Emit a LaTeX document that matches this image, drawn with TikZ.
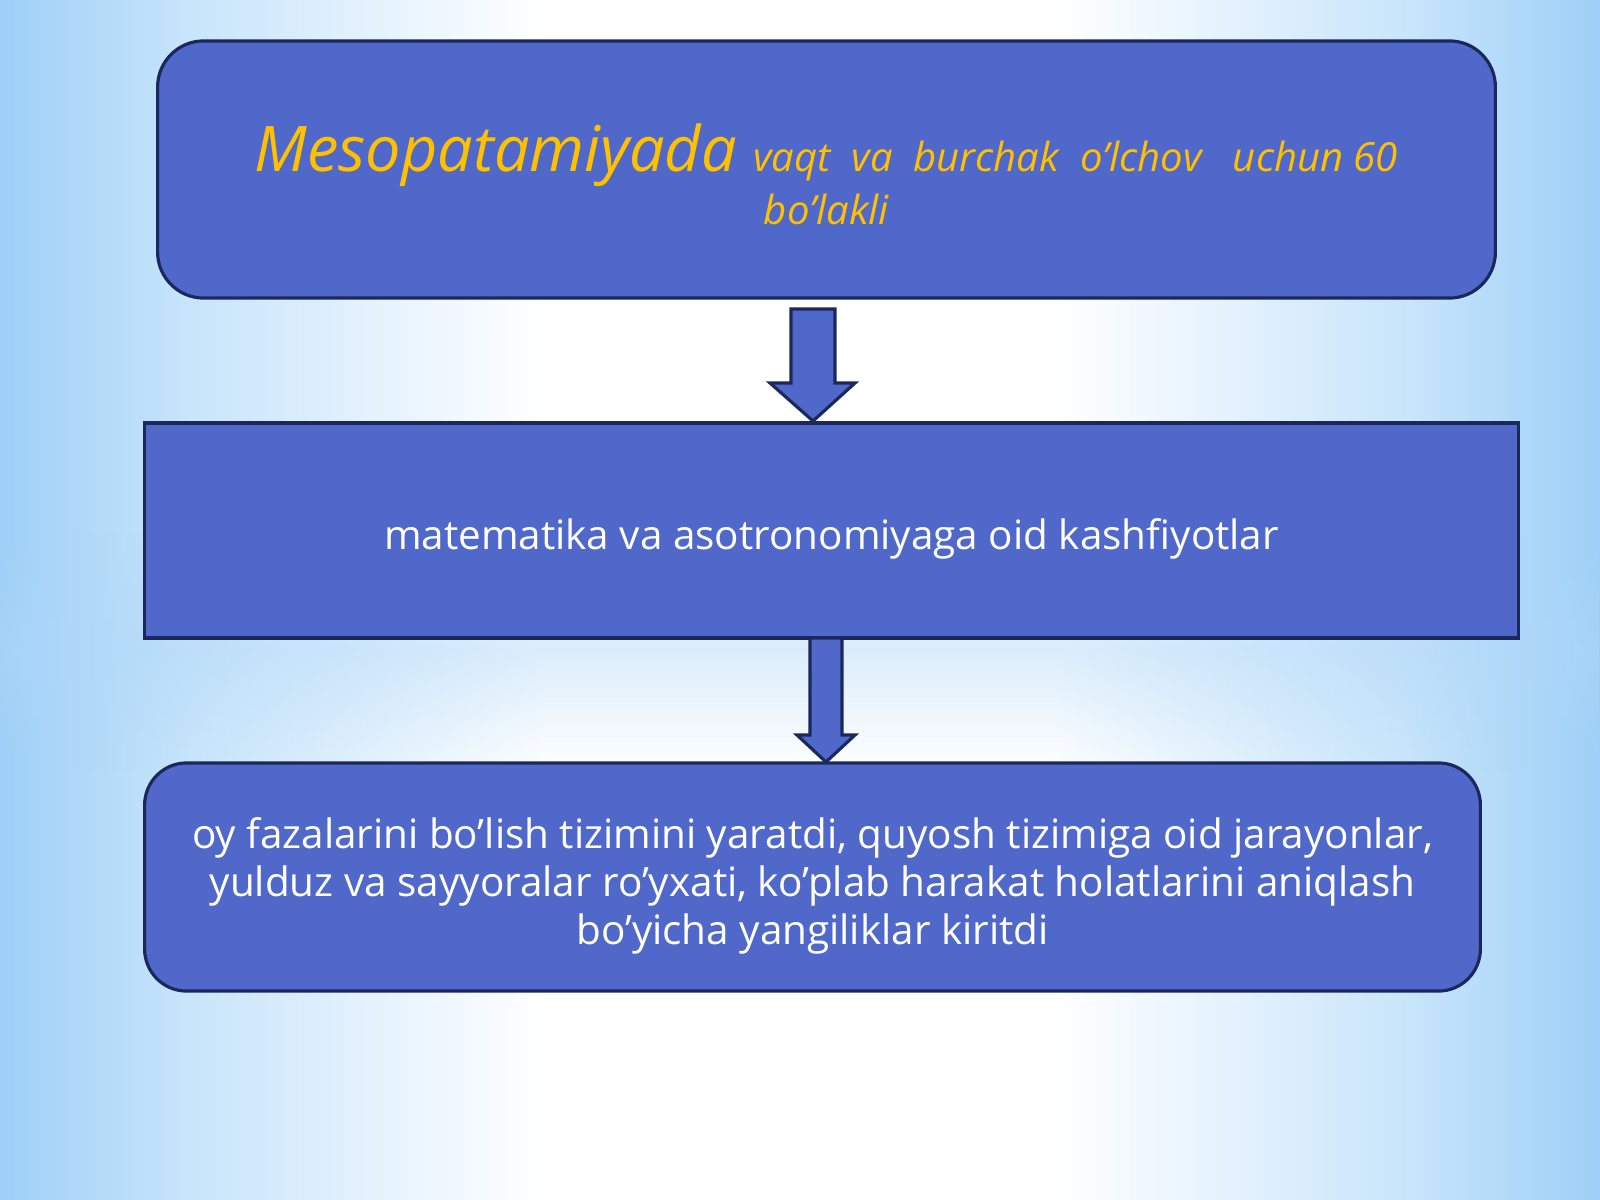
\documentclass[tikz,border=0pt]{standalone}
\usepackage{fontspec}
\setmainfont{Open Sans}
\usetikzlibrary{fadings}
\definecolor{bgblue}{RGB}{158,207,247}
\definecolor{bgmid}{RGB}{200,229,251}
\definecolor{bandblue}{RGB}{175,216,248}
\definecolor{boxfill}{RGB}{80,104,201}
\definecolor{boxline}{RGB}{28,40,92}
\definecolor{gold}{RGB}{255,192,0}
\pgfdeclarehorizontalshading{bgshade}{100bp}{color(0bp)=(bgblue); color(25bp)=(bgblue); color(31bp)=(bgmid); color(42bp)=(white); color(58bp)=(white); color(69bp)=(bgmid); color(75bp)=(bgblue); color(100bp)=(bgblue)}
\tikzfading[name=bandfade, top color=transparent!100, bottom color=transparent!100, middle color=transparent!55]
\tikzset{
  blockbox/.style={draw=boxline, line width=0.9pt, fill=boxfill, inner sep=0pt},
  boxtext/.style={align=center, text=white, inner sep=0pt, font=\fontsize{11.5}{13.6}\selectfont},
  goldtext/.style={align=center, text=gold, inner sep=0pt},
  blockarrow/.style={draw=boxline, line width=0.9pt, fill=boxfill, line join=miter},
}
\begin{document}
\begin{tikzpicture}[x=0.01cm, y=-0.01cm]
% background
\useasboundingbox (0,0) rectangle (1600,1200);
\shade[shading=bgshade] (0,0) rectangle (1600,1200);
\fill[bandblue, path fading=bandfade] (0,530) rectangle (1600,770);
% boxes
\node[blockbox, rounded corners=0.46cm, minimum width=13.37cm, minimum height=2.57cm] (top) at (826.5,169.5) {};
\node[blockbox, minimum width=13.73cm, minimum height=2.15cm] (mid) at (831.5,530.5) {};
\node[blockbox, rounded corners=0.42cm, minimum width=13.35cm, minimum height=2.28cm] (bot) at (812.5,877) {};
% texts
\node[goldtext] (toptext) at ([yshift=-0.05cm]top.center)
  {{\fontsize{17.9}{22}\selectfont\itshape Mesopatamiyada }{\fontsize{11.4}{15}\selectfont\itshape vaqt\ \ va\ \ burchak\ \ o’lchov\ \ \ uchun 60}\\[1.0pt]
   {\fontsize{11.4}{15}\selectfont\itshape bo’lakli}};
\node[boxtext] (midtext) at ([yshift=-0.08cm]mid.center) {matematika va asotronomiyaga oid kashfiyotlar};
\node[boxtext] (bottext) at ([yshift=-0.09cm]bot.center)
  {oy fazalarini bo’lish tizimini yaratdi, quyosh tizimiga oid jarayonlar,\\
   yulduz va sayyoralar ro’yxati, ko’plab harakat holatlarini aniqlash\\
   bo’yicha yangiliklar kiritdi};
% block arrows
\draw[blockarrow] (791,309) -- (835,309) -- (835,383) -- (855,383) -- (813,421) -- (770,383) -- (791,383) -- cycle;
\draw[blockarrow] (810,638) -- (842,638) -- (842,735) -- (855,735) -- (826,762) -- (797,735) -- (810,735) -- cycle;
\end{tikzpicture}
\end{document}
